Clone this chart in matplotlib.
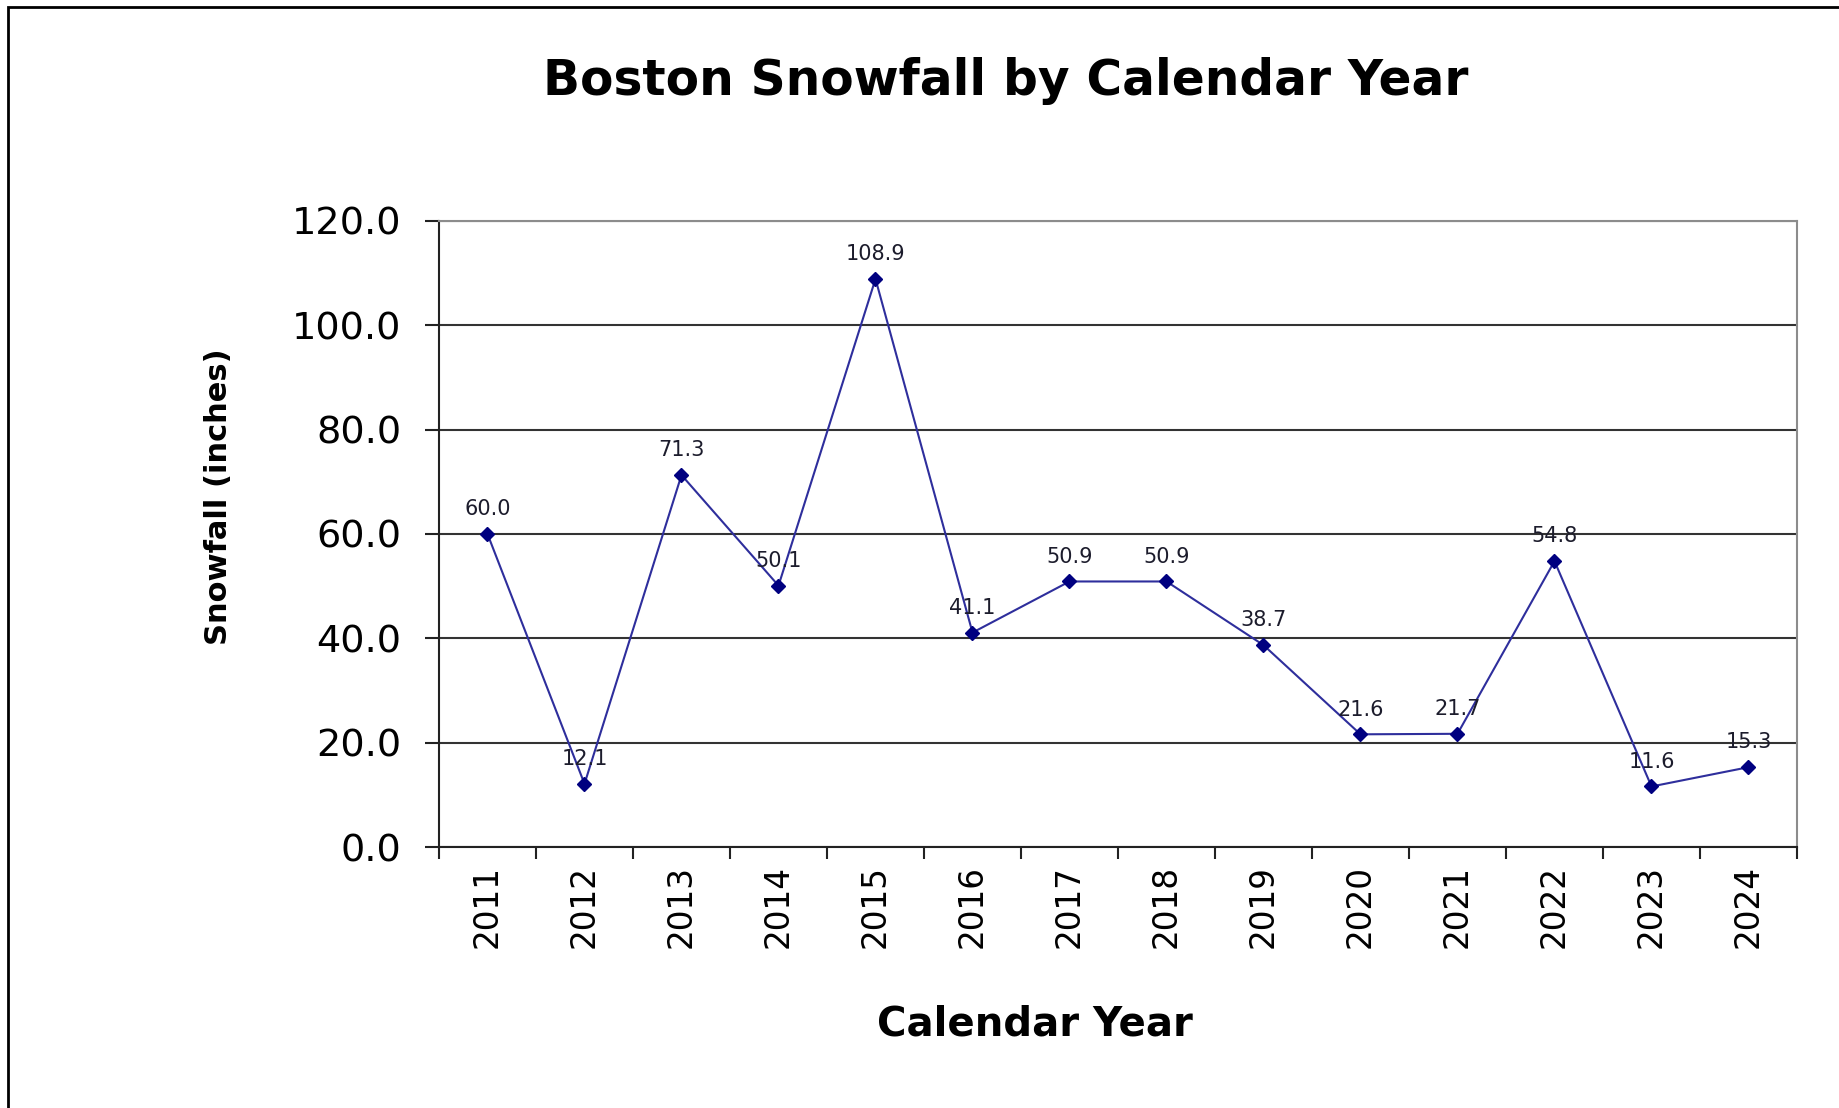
# Boston snowfall por año calendario
import matplotlib
matplotlib.use("Agg")
import matplotlib.pyplot as plt
from matplotlib.patches import Rectangle
from matplotlib.ticker import FixedLocator, NullFormatter, FixedFormatter

# datos
years = ["2011", "2012", "2013", "2014", "2015", "2016", "2017",
         "2018", "2019", "2020", "2021", "2022", "2023", "2024"]
snowfall = [60.0, 12.1, 71.3, 50.1, 108.9, 41.1, 50.9,
            50.9, 38.7, 21.6, 21.7, 54.8, 11.6, 15.3]
yticks = [0, 20, 40, 60, 80, 100, 120]

plt.rcParams['font.family'] = ['DejaVu Sans']

fig = plt.figure(figsize=(18.4, 11.08), dpi=100)
ax = fig.add_axes([439 / 1840, 1 - 847 / 1108, (1797 - 439) / 1840, (847 - 221) / 1108])

x = list(range(len(years)))
ax.plot(x, snowfall, color='#2e2e9c', linewidth=1.5, marker='D',
        markersize=7, markerfacecolor='#000080', markeredgecolor='#000080', zorder=3)

# etiquetas de valores
for xi, v in zip(x, snowfall):
    ax.annotate(f"{v:.1f}", (xi, v), xytext=(0, 13.5), textcoords='offset points',
                ha='center', va='baseline', fontsize=15, color='#1c1c2c', zorder=4)

ax.set_xlim(-0.5, len(years) - 0.5)
ax.set_ylim(0, 120)

# rejilla horizontal
ax.set_yticks(yticks)
ax.set_yticklabels([f"{t:.1f}" for t in yticks])
ax.yaxis.grid(True, color='#333333', linewidth=1.5)
ax.set_axisbelow(True)
ax.tick_params(axis='y', direction='out', length=10, width=1.5, color='#222222',
               labelsize=27.5, pad=17)

# ticks x entre categorias, etiquetas en el centro
ax.xaxis.set_major_locator(FixedLocator([i - 0.5 for i in range(len(years) + 1)]))
ax.xaxis.set_major_formatter(NullFormatter())
ax.xaxis.set_minor_locator(FixedLocator(x))
ax.xaxis.set_minor_formatter(FixedFormatter(years))
ax.tick_params(axis='x', which='major', direction='out', length=8.5, width=1.5, color='#222222')
ax.tick_params(axis='x', which='minor', length=0, labelsize=23.5, pad=13, labelrotation=90)

for s in ['left', 'bottom']:
    ax.spines[s].set_color('#222222')
    ax.spines[s].set_linewidth(1.5)
for s in ['top', 'right']:
    ax.spines[s].set_color('#8c8c8c')
    ax.spines[s].set_linewidth(1.5)

# titulos
fig.text(1006 / 1840, 1 - 95 / 1108, "Boston Snowfall by Calendar Year",
         ha='center', va='baseline', fontsize=35, fontweight='bold')
fig.text(1035 / 1840, 1 - 1035 / 1108, "Calendar Year",
         ha='center', va='baseline', fontsize=29, fontweight='bold')
fig.text(219 / 1840, 1 - 497 / 1108, "Snowfall (inches)", rotation=90,
         ha='center', va='center', fontsize=22, fontweight='bold')

# borde exterior
fig.patches.append(Rectangle((8 / 1840, -0.1), 1.1, 1.1 - 6.5 / 1108,
                             transform=fig.transFigure, fill=False,
                             edgecolor='black', linewidth=2, clip_on=False))

fig.savefig("out.png", dpi=100)
